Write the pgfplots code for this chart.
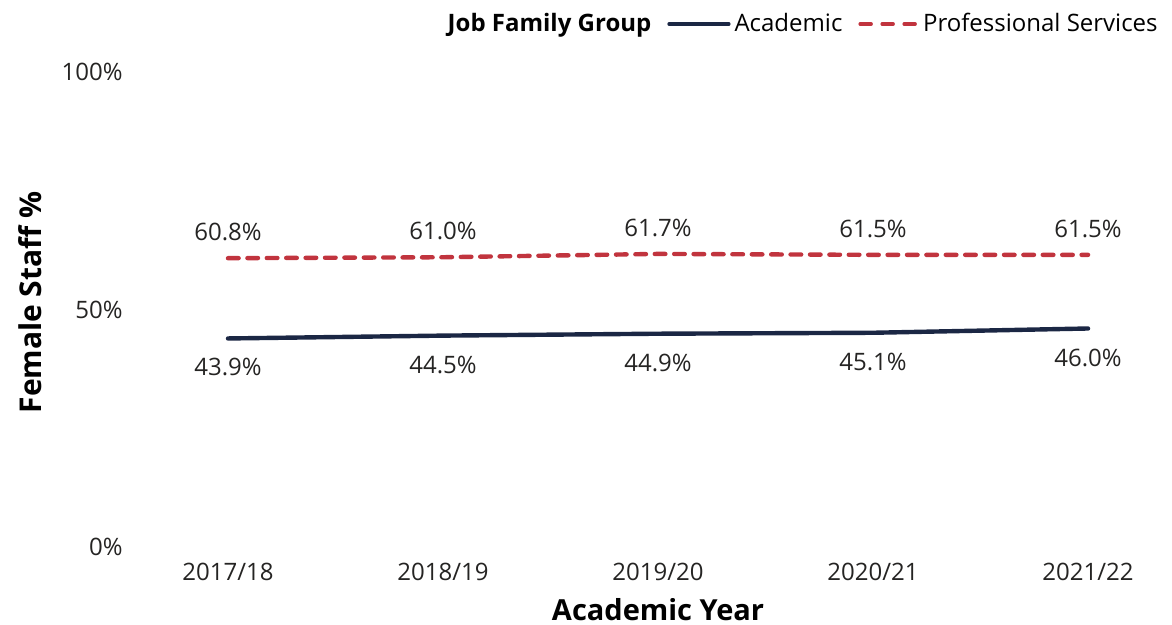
\documentclass[border=0pt]{standalone}
\usepackage{pgfplots}
\pgfplotsset{compat=1.18}
\usepackage{fontspec}
\setmainfont{Open Sans}
\definecolor{navyline}{HTML}{1B2744}
\definecolor{redline}{HTML}{C1343E}
\definecolor{txt}{HTML}{252423}
\pgfplotsset{
  linelegend/.style={legend image code/.code={\draw[##1, line width=1.6pt] (0pt,0pt) -- (30pt,0pt);}},
  redlegend/.style={legend image code/.code={\draw[##1, line width=1.6pt, dash pattern=on 5.6pt off 5.4pt] (0.8pt,0pt) -- (29.5pt,0pt);}},
}
\begin{document}
\begin{tikzpicture}
\useasboundingbox (0,0) rectangle (586pt,312.5pt);
\begin{axis}[
  at={(60.25pt,39pt)}, anchor=south west,
  scale only axis, width=521.4pt, height=237.5pt,
  xmin=-0.5, xmax=4.35, ymin=0, ymax=100,
  axis line style={draw=none},
  clip=false,
  xtick={0,1,2,3,4},
  xticklabels={2017/18,2018/19,2019/20,2020/21,2021/22},
  ytick={0,50,100},
  yticklabels={0\%,50\%,100\%},
  tick style={draw=none},
  font=\fontsize{12}{14}\selectfont,
  /pgf/number format/assume math mode=true,
  xticklabel style={anchor=north, inner sep=0pt, yshift=-8pt, text=txt},
  yticklabel style={anchor=east, inner sep=0pt, xshift=1.25pt, text=txt},
  xlabel={\fontsize{14.5}{16}\selectfont\bfseries Academic Year},
  ylabel={\fontsize{15}{16}\selectfont\bfseries Female Staff \%},
  xlabel style={at={(axis description cs:0.5155,-0.131)}, anchor=center},
  ylabel style={at={(axis description cs:-0.0868,0.515)}, anchor=center, rotate=0},
  legend style={at={(axis description cs:0.9988,1.101)}, anchor=east, draw=none, fill=none,
    legend columns=-1, inner sep=0pt, font=\fontsize{12}{14}\selectfont,
    /tikz/every even column/.append style={column sep=6pt}},
  legend cell align=left,
  linelegend,
]
\addlegendimage{empty legend}
\addlegendentry{\bfseries Job Family Group}
\addplot[navyline, line width=2.2pt, line cap=round,
  nodes near coords={\pgfmathprintnumber[fixed,fixed zerofill,precision=1]{\pgfplotspointmeta}\%},
  every node near coord/.style={anchor=center, yshift=-14.5pt, text=txt, font=\fontsize{12}{14}\selectfont}]
  coordinates {(0,43.9) (1,44.5) (2,44.9) (3,45.1) (4,46.0)};
\addlegendentry{Academic}
\addplot[redline, line width=2.2pt, line cap=round, dash pattern=on 5.3pt off 4.4pt,
  redlegend,
  nodes near coords={\pgfmathprintnumber[fixed,fixed zerofill,precision=1]{\pgfplotspointmeta}\%},
  every node near coord/.style={anchor=center, yshift=13pt, text=txt, font=\fontsize{12}{14}\selectfont}]
  coordinates {(0,60.8) (1,61.0) (2,61.7) (3,61.5) (4,61.5)};
\addlegendentry{Professional Services}
\end{axis}
\end{tikzpicture}
\end{document}
